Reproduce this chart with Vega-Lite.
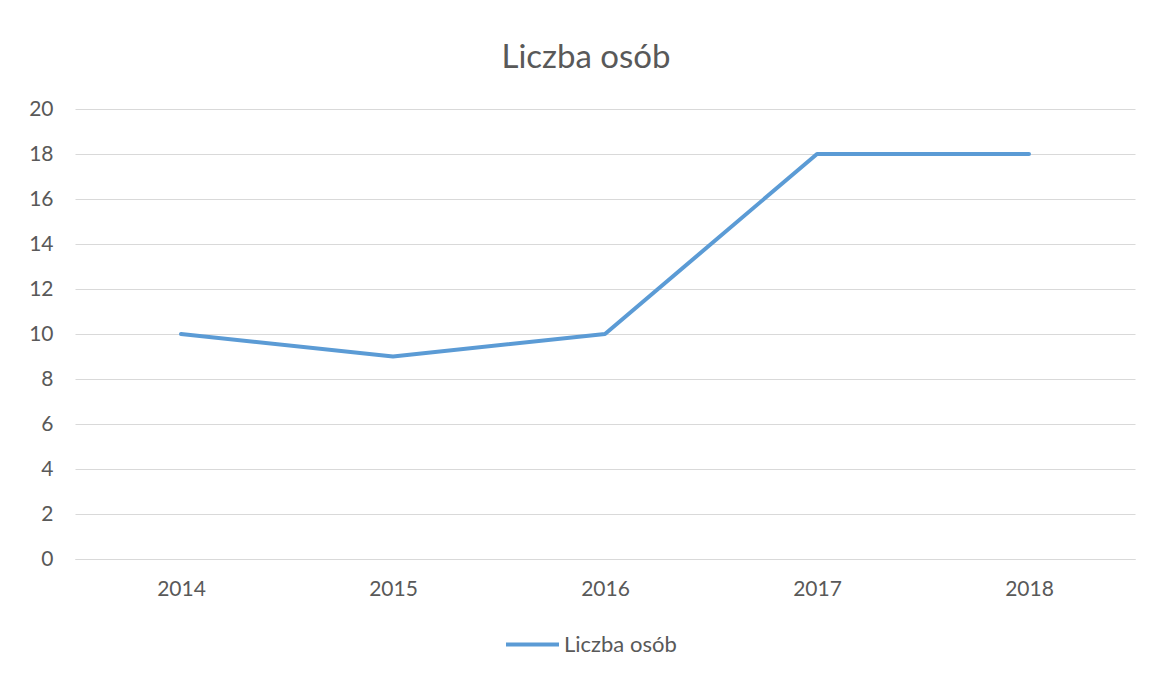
{
  "$schema": "https://vega.github.io/schema/vega-lite/v6.json",
  "autosize": {"type": "none"},
  "width": 1060,
  "height": 450,
  "padding": {"left": 75, "top": 109, "right": 16, "bottom": 116},
  "background": "white",
  "title": {
    "text": "Liczba osób",
    "font": "Lato",
    "fontSize": 33,
    "fontWeight": "normal",
    "color": "#595959",
    "anchor": "middle",
    "dx": -19,
    "offset": 23
  },
  "data": {
    "values": [
      {"rok": "2014", "wartosc": 10, "seria": "Liczba osób"},
      {"rok": "2015", "wartosc": 9, "seria": "Liczba osób"},
      {"rok": "2016", "wartosc": 10, "seria": "Liczba osób"},
      {"rok": "2017", "wartosc": 18, "seria": "Liczba osób"},
      {"rok": "2018", "wartosc": 18, "seria": "Liczba osób"}
    ]
  },
  "mark": {"type": "line", "strokeWidth": 4, "strokeCap": "round", "strokeJoin": "round"},
  "encoding": {
    "x": {
      "field": "rok",
      "type": "ordinal",
      "scale": {"type": "point", "padding": 0.5},
      "axis": {
        "title": null,
        "labelAngle": 0,
        "labelFont": "Lato",
        "labelFontSize": 21,
        "labelColor": "#595959",
        "labelPadding": 19,
        "ticks": false,
        "domain": true,
        "domainColor": "#d9d9d9",
        "grid": false
      }
    },
    "y": {
      "field": "wartosc",
      "type": "quantitative",
      "scale": {"domain": [0, 20], "nice": false},
      "axis": {
        "title": null,
        "values": [0, 2, 4, 6, 8, 10, 12, 14, 16, 18, 20],
        "labelFont": "Lato",
        "labelFontSize": 21,
        "labelColor": "#595959",
        "labelPadding": 22,
        "ticks": false,
        "domain": false,
        "grid": true,
        "gridColor": "#d9d9d9",
        "gridWidth": 1
      }
    },
    "color": {
      "field": "seria",
      "type": "nominal",
      "scale": {"range": ["#5B9BD5"]},
      "legend": {
        "title": null,
        "orient": "none",
        "legendX": 429,
        "legendY": 507,
        "symbolType": "stroke",
        "symbolSize": 2809,
        "symbolStrokeWidth": 4,
        "labelFont": "Lato",
        "labelFontSize": 22,
        "labelColor": "#595959",
        "labelOffset": 3
      }
    }
  },
  "config": {
    "view": {"stroke": null}
  }
}
